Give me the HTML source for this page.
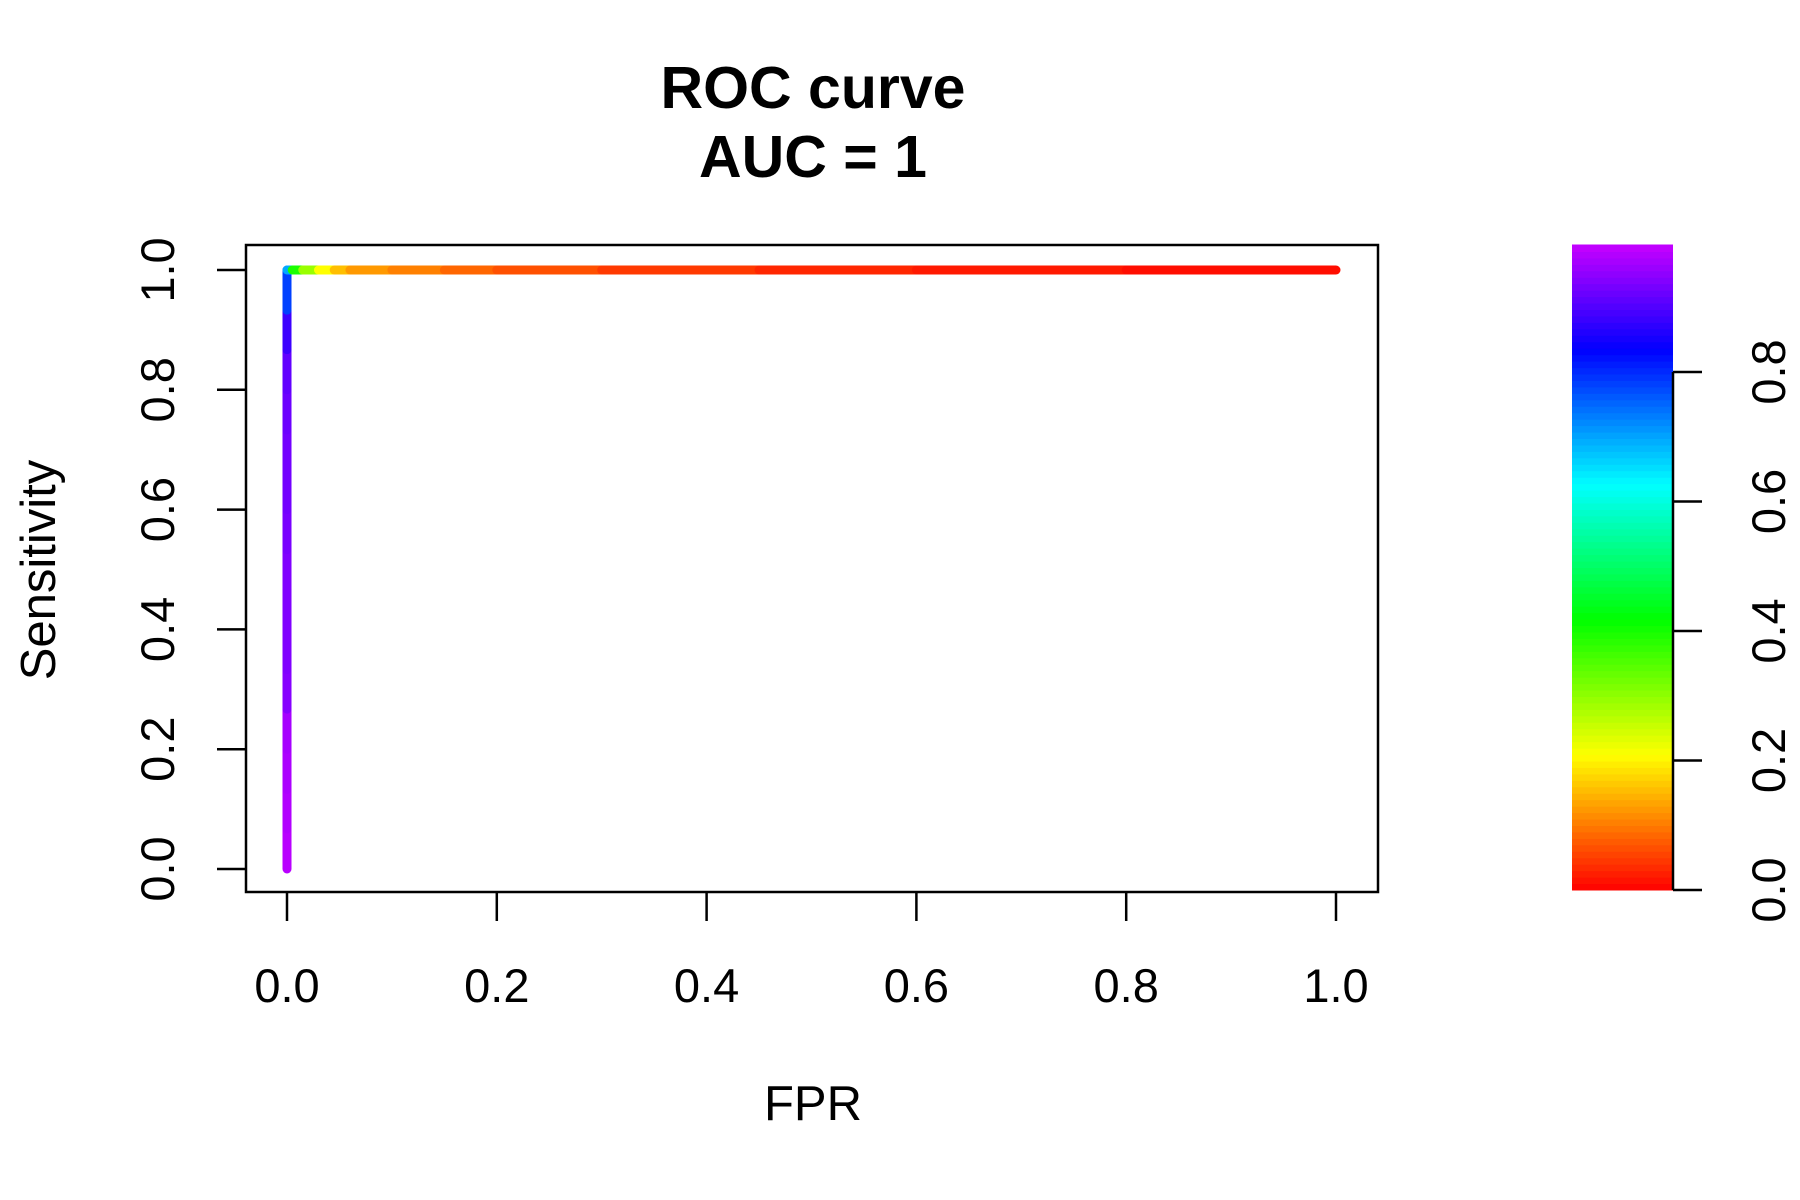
<!DOCTYPE html>
<html><head><meta charset="utf-8"><style>
body{margin:0;background:#fff}
svg{display:block;font-family:"Liberation Sans",Arial,sans-serif}
</style></head><body>
<svg id="chart" width="1800" height="1200" viewBox="0 0 1800 1200">
<text x="813" y="108" font-size="59" font-weight="bold" text-anchor="middle">ROC curve</text>
<text x="813" y="177" font-size="59" font-weight="bold" text-anchor="middle">AUC = 1</text>
<rect x="246" y="245" width="1132" height="647" fill="none" stroke="#000" stroke-width="2.5"/>
<g id="xaxis"></g>
<g id="yaxis"></g>
<g id="curve"></g>
<g id="cbar"></g>
<text x="813" y="1120" font-size="49" text-anchor="middle">FPR</text>
<text transform="translate(55,570) rotate(-90)" font-size="49" text-anchor="middle">Sensitivity</text>
</svg>
<script>
const fpr = [0,0,0,0,0,0,0,0,0,0,0,0,0,0,0,0,0.005,0.015,0.03,0.045,0.06,0.1,0.15,0.2,0.3,0.45,0.6,0.8,1];
const tpr = [0,0.067,0.133,0.2,0.267,0.333,0.4,0.467,0.533,0.6,0.667,0.733,0.8,0.867,0.933,1,1,1,1,1,1,1,1,1,1,1,1,1,1];
const cutoff = [0.945,0.94,0.935,0.93,0.905,0.9,0.9,0.9,0.895,0.89,0.89,0.885,0.877,0.847,0.75,0.667,0.38,0.28,0.2,0.15,0.12,0.1,0.08,0.063,0.045,0.03,0.02,0.01,0];
const xTicks = [0,0.2,0.4,0.6,0.8,1.0];
const xTickLabels = ["0.0","0.2","0.4","0.6","0.8","1.0"];
const yTicks = [0,0.2,0.4,0.6,0.8,1.0];
const yTickLabels = ["0.0","0.2","0.4","0.6","0.8","1.0"];
const cbTicks = [0,0.2,0.4,0.6,0.8];
const cbTickLabels = ["0.0","0.2","0.4","0.6","0.8"];

const NS="http://www.w3.org/2000/svg";
const X=v=>287+v*(1336-287);
const Y=v=>869-v*(869-270);
const CB=v=>890-v*(890-372)/0.8;
const col=v=>`hsl(${v*300},100%,50%)`;
function mk(t,a,p){const e=document.createElementNS(NS,t);for(const k in a)e.setAttribute(k,a[k]);p.appendChild(e);return e;}
const xa=document.getElementById('xaxis'),ya=document.getElementById('yaxis'),cv=document.getElementById('curve'),cb=document.getElementById('cbar');
xTicks.forEach((t,i)=>{
  const l=mk('line',{x1:X(t),x2:X(t),y1:892,y2:921,stroke:'#000','stroke-width':2.5},xa);
  
  
  const s=mk('text',{x:X(t),y:1002,'font-size':47,'text-anchor':'middle'},xa);s.textContent=xTickLabels[i];
  
  
});
yTicks.forEach((t,i)=>{
  const l=mk('line',{x1:217,x2:246,y1:Y(t),y2:Y(t),stroke:'#000','stroke-width':2.5},ya);
  
  
  const s=mk('text',{transform:`translate(174,${Y(t)}) rotate(-90)`,'font-size':47,'text-anchor':'middle'},ya);s.textContent=yTickLabels[i];
  
  
});
for(let i=0;i<fpr.length-1;i++){
  const l=mk('line',{x1:X(fpr[i]),y1:Y(tpr[i]),x2:X(fpr[i+1]),y2:Y(tpr[i+1]),stroke:col(cutoff[i]),'stroke-width':9,'stroke-linecap':'round'},cv);
  
  
}
const N=100, cbTop=0.955;
for(let i=0;i<N;i++){
  const v0=i/N, v1=(i+1)/N;
  const r=mk('rect',{x:1572,y:245+(1-v1)*(890-245)-0.5,width:101,height:(890-245)/N+1,fill:col((v0+v1)/2*cbTop)},cb);
  
  
}
mk('line',{x1:1673,x2:1673,y1:372,y2:890,stroke:'#000','stroke-width':2.5},cb);
cbTicks.forEach((t,i)=>{
  const l=mk('line',{x1:1673,x2:1702,y1:CB(t),y2:CB(t),stroke:'#000','stroke-width':2.5},cb);
  
  
  const s=mk('text',{transform:`translate(1785,${CB(t)}) rotate(-90)`,'font-size':47,'text-anchor':'middle'},cb);s.textContent=cbTickLabels[i];
  
  
});
</script>
</body></html>
